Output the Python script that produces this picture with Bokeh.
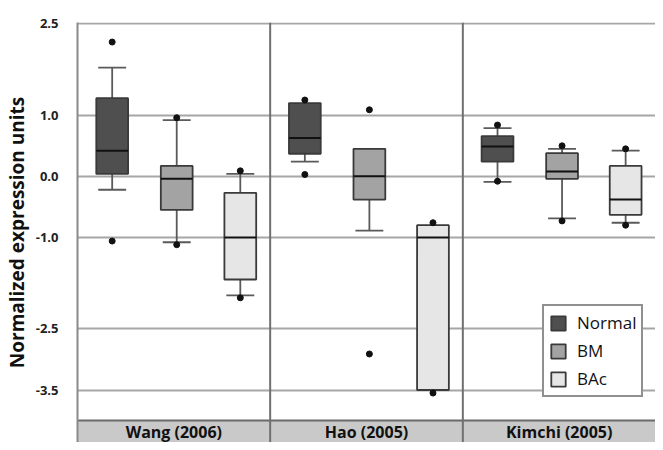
from bokeh.plotting import figure
from bokeh.models import Range1d, FixedTicker, Legend, LegendItem
from bokeh.core.properties import value
from bokeh.embed import file_html
from bokeh.resources import INLINE

studies = ["Wang (2006)", "Hao (2005)", "Kimchi (2005)"]
series = ["Normal", "BM", "BAc"]
colors = ["#4f4f4f", "#a3a3a3", "#e6e6e6"]

# per series, per study
q1 = {"Normal": [0.04, 0.37, 0.24], "BM": [-0.55, -0.38, -0.04], "BAc": [-1.69, -3.50, -0.63]}
med = {"Normal": [0.42, 0.63, 0.49], "BM": [-0.04, 0.00, 0.08], "BAc": [-1.00, -1.00, -0.38]}
q3 = {"Normal": [1.28, 1.20, 0.66], "BM": [0.17, 0.45, 0.38], "BAc": [-0.27, -0.80, 0.17]}
wlo = {"Normal": [-0.22, 0.24, -0.09], "BM": [-1.08, -0.89, -0.69], "BAc": [-1.95, -3.50, -0.76]}
whi = {"Normal": [1.78, 1.20, 0.79], "BM": [0.92, 0.45, 0.45], "BAc": [0.04, -0.80, 0.42]}
pts = {"Normal": [[2.20, -1.06], [1.25, 0.03], [0.84, -0.08]],
       "BM": [[0.96, -1.12], [1.09, -2.91], [0.50, -0.73]],
       "BAc": [[0.09, -1.99], [-0.76, -3.55], [0.45, -0.80]]}

tick_values = [2.5, 1.0, 0.0, -1.0, -2.5, -3.5]
tick_labels = ["2.5", "1.0", "0.0", "-1.0", "-2.5", "-3.5"]

FONT = "Open Sans"
y_top = 2.52
y_bottom = -4.36
band_top = -4.0

p = figure(width=655, height=442, output_backend="svg", toolbar_location=None,
           x_range=Range1d(0, 3), y_range=Range1d(y_bottom, y_top),
           min_border_left=74, min_border_right=0, min_border_top=22, min_border_bottom=0)
p.outline_line_color = None
p.background_fill_color = "white"
p.xaxis.visible = False
p.xgrid.visible = False
p.ygrid.ticker = FixedTicker(ticks=tick_values)
p.ygrid.grid_line_color = "#a6a6a6"
p.ygrid.grid_line_width = 2
p.yaxis.ticker = FixedTicker(ticks=tick_values)
p.yaxis.major_label_overrides = {v: l for v, l in zip(tick_values, tick_labels)}
p.yaxis.major_tick_line_color = None
p.yaxis.minor_tick_line_color = None
p.yaxis.axis_line_color = "#8a8a8a"
p.yaxis.axis_line_width = 2
p.yaxis.major_label_text_font = FONT
p.yaxis.major_label_text_font_style = "bold"
p.yaxis.major_label_text_font_size = "13px"
p.yaxis.major_label_text_color = "#222222"
p.yaxis.major_label_standoff = 13
p.yaxis.axis_label = "Normalized expression units"
p.yaxis.axis_label_text_font = FONT
p.yaxis.axis_label_text_font_style = "bold"
p.yaxis.axis_label_text_font_size = "19px"
p.yaxis.axis_label_text_color = "#111111"
p.yaxis.axis_label_standoff = 3

# bottom band
idx = list(range(len(studies)))
p.quad(left=[i for i in idx], right=[i + 1 for i in idx], bottom=y_bottom, top=band_top,
       fill_color="#c9c9c9", line_color=None)
p.segment(x0=0, x1=3, y0=band_top, y1=band_top, line_color="#6a6a6a", line_width=2)
p.text(x=[i + 0.5 for i in idx], y=(band_top + y_bottom) / 2, text=studies,
       text_font=value(FONT), text_font_style="bold", text_font_size="16px",
       text_align="center", text_baseline="middle", text_color="#111111")
# panel dividers
p.segment(x0=[1, 2], x1=[1, 2], y0=y_bottom, y1=y_top, line_color="#707070", line_width=2)

offs = [0.18, 0.515, 0.845]
bw = 0.165
cw = 0.145
legend_items = []
for j, s in enumerate(series):
    xs = [i + offs[j] for i in idx]
    # whiskers
    p.segment(x0=xs, x1=xs, y0=wlo[s], y1=q1[s], line_color="#5a5a5a", line_width=1.8)
    p.segment(x0=xs, x1=xs, y0=q3[s], y1=whi[s], line_color="#5a5a5a", line_width=1.8)
    caps_x, caps_y = [], []
    for k in idx:
        if wlo[s][k] < q1[s][k]:
            caps_x.append(xs[k]); caps_y.append(wlo[s][k])
        if whi[s][k] > q3[s][k]:
            caps_x.append(xs[k]); caps_y.append(whi[s][k])
    p.segment(x0=[x - cw / 2 for x in caps_x], x1=[x + cw / 2 for x in caps_x],
              y0=caps_y, y1=caps_y, line_color="#5a5a5a", line_width=1.8)
    r = p.quad(left=[x - bw / 2 for x in xs], right=[x + bw / 2 for x in xs],
               bottom=q1[s], top=q3[s], fill_color=colors[j], line_color="#3a3a3a", line_width=1.8)
    p.segment(x0=[x - bw / 2 for x in xs], x1=[x + bw / 2 for x in xs],
              y0=med[s], y1=med[s], line_color="#111111", line_width=2)
    px, py = [], []
    for k in idx:
        for v in pts[s][k]:
            px.append(xs[k]); py.append(v)
    p.scatter(x=px, y=py, size=6, color="#111111")
    legend_items.append(LegendItem(label=s, renderers=[r]))

legend = Legend(items=legend_items, location=(465, 45))
legend.border_line_color = "#222222"
legend.border_line_width = 2
legend.background_fill_color = "white"
legend.background_fill_alpha = 1
legend.label_text_font = FONT
legend.label_text_font_size = "17px"
legend.label_text_color = "#111111"
legend.glyph_width = 18
legend.glyph_height = 18
legend.label_height = 20
legend.spacing = 5
legend.padding = 5
legend.label_standoff = 10
legend.margin = 0
p.add_layout(legend, "center")

open("out.html", "w").write(file_html(p, INLINE))
